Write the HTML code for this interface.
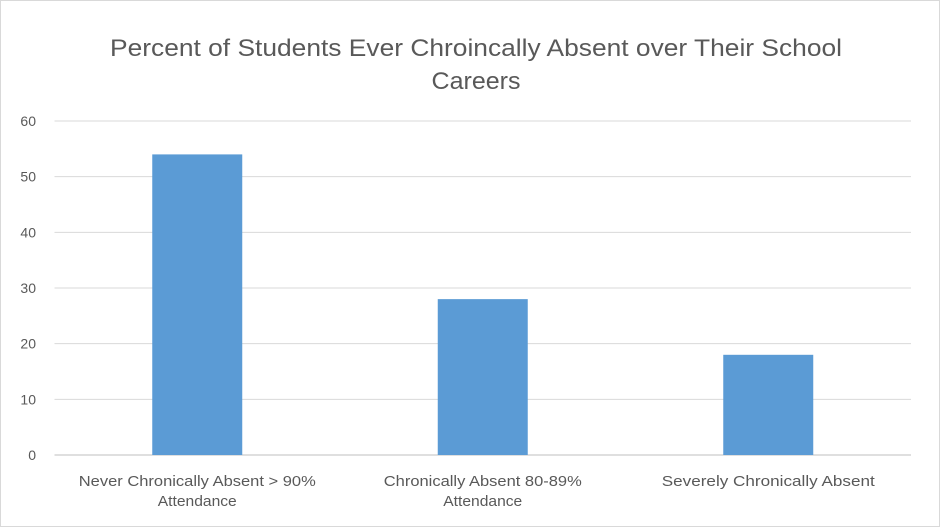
<!DOCTYPE html>
<html><head><meta charset="utf-8"><style>
html,body{margin:0;padding:0;background:#fff;}
svg{display:block;font-family:"Liberation Sans",sans-serif;}
</style></head><body>
<svg id="chart" width="940" height="527" viewBox="0 0 940 527">
<rect x="0.5" y="0.5" width="939" height="526" fill="#fff" stroke="#d9d9d9"/>
<text x="476" y="56" text-anchor="middle" font-size="24" fill="#595959" textLength="732" lengthAdjust="spacingAndGlyphs">Percent of Students Ever Chroincally Absent over Their School</text>
<text x="476" y="89" text-anchor="middle" font-size="24" fill="#595959" textLength="89" lengthAdjust="spacingAndGlyphs">Careers</text>
<g id="grid"></g><g id="bars"></g><g id="labels"></g>
</svg>
<script>
const categories = [["Never Chronically Absent > 90%","Attendance"],["Chronically Absent 80-89%","Attendance"],["Severely Chronically Absent"]];
const values = [54, 28, 18];
const ticks = [0,10,20,30,40,50,60];
const NS="http://www.w3.org/2000/svg";
const x0=54.5, x1=911, y0=455, yTop=121, vmax=60;
const y=v=>y0-(v/vmax)*(y0-yTop);
const bw=(x1-x0)/categories.length;
const xc=i=>x0+bw*(i+0.5);
function mk(t,a,p){const e=document.createElementNS(NS,t);for(const k in a)e.setAttribute(k,a[k]);p.appendChild(e);return e;}
const grid=document.getElementById('grid'),bars=document.getElementById('bars'),labels=document.getElementById('labels');
ticks.forEach(t=>{
 const l=mk('line',{x1:x0,x2:x1,y1:y(t),y2:y(t),stroke:t===0?'#bfbfbf':'#d9d9d9','stroke-width':1},grid);
 
 
 const tx=mk('text',{x:36,y:y(t)+5,'text-anchor':'end','font-size':14,fill:'#595959'},grid);
 tx.textContent=t;
 
 
});
values.forEach((v,i)=>{
 const r=mk('rect',{x:xc(i)-45,y:y(v),width:90,height:y0-y(v),fill:'#5b9bd5'},bars);
 
 
 categories[i].forEach((line,j)=>{
  const t=mk('text',{x:xc(i),y:486+j*20,'text-anchor':'middle','font-size':14.5,fill:'#595959',textLength:Math.round(line.length*7.9),lengthAdjust:'spacingAndGlyphs'},labels);
  t.textContent=line;
  
  
 });
});
</script>
</body></html>
